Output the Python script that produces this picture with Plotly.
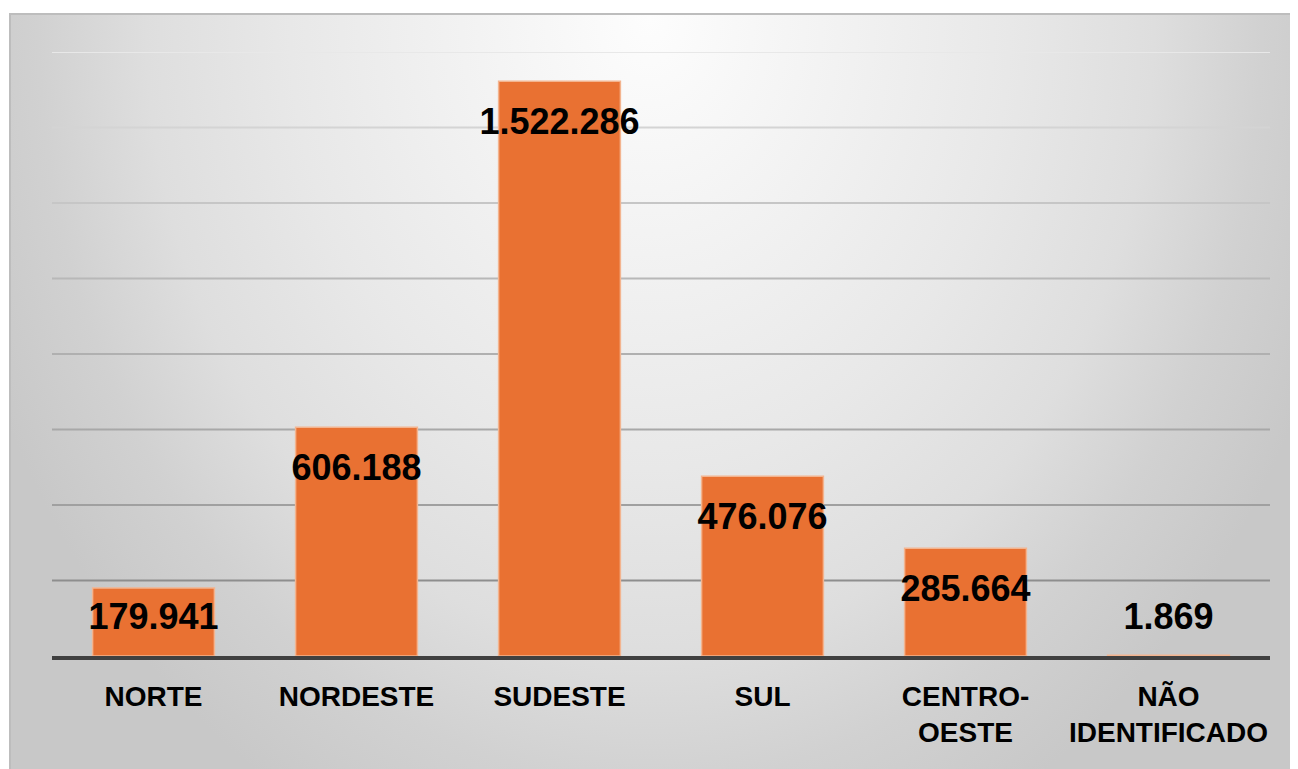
import base64
import plotly.graph_objects as go

# ---- data ----
regions = ["NORTE", "NORDESTE", "SUDESTE", "SUL", "CENTRO-<br>OESTE", "NÃO<br>IDENTIFICADO"]
values = [179941, 606188, 1522286, 476076, 285664, 1869]
value_labels = ["179.941", "606.188", "1.522.286", "476.076", "285.664", "1.869"]
grid_values = [200000, 400000, 600000, 800000, 1000000, 1200000, 1400000, 1600000]

# ---- style ----
W, H = 1290, 761          # page adds an 8 px body margin
ML, MR, MT, MB = 44, 28, 44, 113
YMAX = 1600000
LABEL_OFFSET = 116000  # label distance below bar top, data units
LABEL_MIN = 96000      # lowest label position, data units
grid_colors = ["#8e8e8e", "#a0a0a0", "#a8a8a8", "#b0b0b0", "#b8b8b8", "#c6c6c6", "#d4d4d4", "#e8e8e8"]
BAR_COLOR = "#E97132"

pw = W - ML - MR
ph = H - MT - MB

# radial gradient background as an SVG image
box_x0, box_y0 = 2, 5
box_w, box_h = W - box_x0 + 4, H - box_y0 + 4
svg = f'''<svg xmlns="http://www.w3.org/2000/svg" width="{box_w}" height="{box_h}" viewBox="0 0 {box_w} {box_h}" preserveAspectRatio="none">
<defs><radialGradient id="g" gradientUnits="userSpaceOnUse" cx="0" cy="0" r="1" gradientTransform="translate(640 5) scale(720 900)">
<stop offset="0" stop-color="#fdfdfd"/>
<stop offset="0.5" stop-color="#e8e8e8"/>
<stop offset="0.7" stop-color="#dedede"/>
<stop offset="0.85" stop-color="#d1d1d1"/>
<stop offset="1" stop-color="#c8c8c8"/>
</radialGradient></defs>
<rect x="0" y="0" width="{box_w}" height="{box_h}" fill="url(#g)"/>
</svg>'''
src = "data:image/svg+xml;base64," + base64.b64encode(svg.encode()).decode()

def px2paper_x(px):
    return (px - ML) / pw

def px2paper_y(py):
    return (H - MB - py) / ph

label_y = [max(v - LABEL_OFFSET, LABEL_MIN) for v in values]

fig = go.Figure()
fig.add_trace(go.Bar(
    x=regions, y=values, width=0.6,
    marker=dict(color=BAR_COLOR, line=dict(color="#F3B48F", width=1.5)),
    hoverinfo="skip",
))
fig.add_trace(go.Scatter(
    x=regions, y=label_y, mode="text", text=value_labels,
    textposition="middle center",
    textfont=dict(family="Liberation Sans, Arial, sans-serif", size=36, color="#000000", weight="bold"),
    hoverinfo="skip",
))

shapes = []
for gv, gc in zip(grid_values, grid_colors):
    shapes.append(dict(type="line", xref="paper", yref="y", x0=0, x1=1, y0=gv, y1=gv,
                       line=dict(color=gc, width=2), layer="below"))
# chart border (top/left edge)
shapes.append(dict(type="rect", xref="paper", yref="paper",
                   x0=px2paper_x(box_x0), x1=px2paper_x(W + 4),
                   y0=px2paper_y(H + 4), y1=px2paper_y(box_y0 + 1),
                   line=dict(color="#bdbdbd", width=2), layer="below"))

fig.update_layout(
    width=W, height=H,
    margin=dict(l=ML, r=MR, t=MT, b=MB, pad=0),
    paper_bgcolor="#ffffff", plot_bgcolor="rgba(0,0,0,0)",
    showlegend=False,
    bargap=0.4,
    images=[dict(source=src, xref="paper", yref="paper",
                 x=px2paper_x(box_x0), y=px2paper_y(box_y0),
                 sizex=box_w / pw, sizey=box_h / ph,
                 xanchor="left", yanchor="top", sizing="stretch", layer="below")],
    shapes=shapes,
    xaxis=dict(showgrid=False, zeroline=False, showline=True, linecolor="#404040", linewidth=4,
               ticks="outside", ticklen=12, tickcolor="rgba(0,0,0,0)",
               tickfont=dict(family="Liberation Sans, Arial", size=28,
                             color="#000000", weight="bold"),
               fixedrange=True),
    yaxis=dict(range=[0, YMAX], showgrid=False, zeroline=False, showticklabels=False,
               showline=False, fixedrange=True),
)

fig.write_html("out.html")
